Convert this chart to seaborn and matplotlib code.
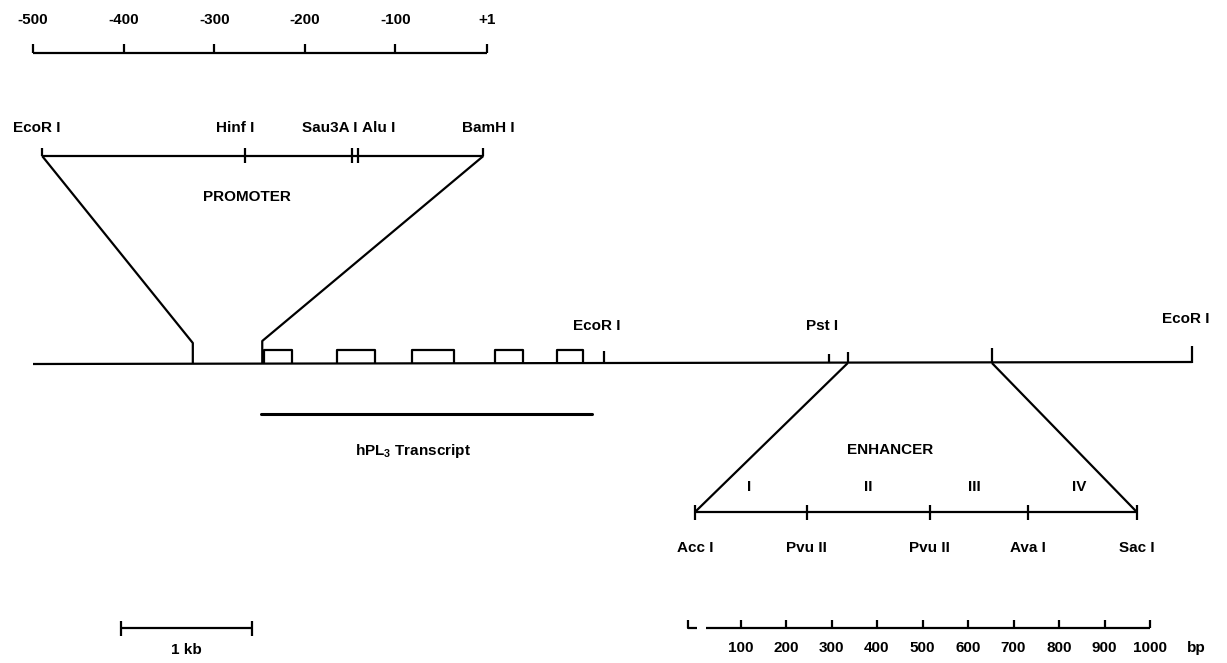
import matplotlib
matplotlib.use("Agg")
import matplotlib.pyplot as plt
import seaborn as sns
import pandas as pd

sns.set_theme(style="white")
plt.rcParams['font.family'] = ['Liberation Sans Narrow', 'Liberation Sans', 'DejaVu Sans']

# promoter fragment, positions in bp relative to the cap site (+1)
promoter_ticks = [-500, -400, -300, -200, -100, 1]
promoter_tick_labels = ["-500", "-400", "-300", "-200", "-100", "+1"]
promoter_sites = ["EcoR I", "Hinf I", "Sau3A I", "Alu I", "BamH I"]
promoter_site_bp = [-490, -266, -148, -141, -3]

# main genomic map, positions in kb from the left end
map_length_kb = 8.85
promoter_window_kb = [1.22, 1.75]
exon_starts_kb = [1.76, 2.32, 2.89, 3.53, 4.00]
exon_ends_kb = [1.98, 2.61, 3.21, 3.74, 4.20]
transcript_kb = [1.74, 4.27]
map_sites = ["EcoR I", "Pst I", "", "", "EcoR I"]
map_site_kb = [4.36, 6.08, 6.22, 7.32, 8.85]
enhancer_window_kb = [6.22, 7.32]

# enhancer fragment, positions in bp
enhancer_sites = ["Acc I", "Pvu II", "Pvu II", "Ava I", "Sac I"]
enhancer_site_bp = [0, 246, 516, 732, 971]
enhancer_regions = ["I", "II", "III", "IV"]
enhancer_region_bp = [120, 380, 615, 845]
bp_ticks = [100, 200, 300, 400, 500, 600, 700, 800, 900, 1000]


# pixel layout of the drawing
def promo_x(bp):
    return 487 + (bp - 1) * 0.906


def map_x(kb):
    return 33 + kb * 131


def enh_x(bp):
    return 695 + bp * 0.455


Y_TOP = 53
Y_PROMO = 156
Y_MAP = 363
Y_TRANS = 414
Y_ENH = 512
Y_SCALE = 628

fig = plt.figure(figsize=(12.27, 6.63), dpi=100)
ax = fig.add_axes([0, 0, 1, 1])
ax.set_xlim(0, 1227)
ax.set_ylim(663, 0)
ax.axis("off")

line = dict(color="black", lw=1.6, solid_capstyle="butt")
txt = dict(fontsize=11, fontweight="bold", color="black")

# top bp scale
ax.plot([promo_x(-500), promo_x(1)], [Y_TOP, Y_TOP], **line)
for bp, lab in zip(promoter_ticks, promoter_tick_labels):
    ax.plot([promo_x(bp), promo_x(bp)], [Y_TOP, Y_TOP - 9], **line)
    ax.text(promo_x(bp), 20, lab, ha="center", va="center", **txt)

# promoter fragment
ax.plot([promo_x(promoter_site_bp[0]), promo_x(promoter_site_bp[-1])], [Y_PROMO, Y_PROMO], **line)
for i, bp in enumerate(promoter_site_bp):
    lo = Y_PROMO if i in (0, len(promoter_site_bp) - 1) else Y_PROMO + 7
    ax.plot([promo_x(bp), promo_x(bp)], [Y_PROMO - 8, lo], **line)
label_x = [promo_x(promoter_site_bp[0]) - 5, promo_x(promoter_site_bp[1]) - 10,
           promo_x(promoter_site_bp[2]) - 22, promo_x(promoter_site_bp[3]) + 20,
           promo_x(promoter_site_bp[4]) + 5]
for lab, x in zip(promoter_sites, label_x):
    ax.text(x, 128, lab, ha="center", va="center", **txt)
ax.text(247, 197, "PROMOTER", ha="center", va="center", **txt)

# zoom lines promoter -> map
ax.plot([promo_x(promoter_site_bp[0]), map_x(promoter_window_kb[0]), map_x(promoter_window_kb[0])],
        [Y_PROMO, Y_MAP - 20, Y_MAP], **line)
ax.plot([promo_x(promoter_site_bp[-1]), map_x(promoter_window_kb[1]), map_x(promoter_window_kb[1])],
        [Y_PROMO, Y_MAP - 22, Y_MAP], **line)

# main map
ax.plot([map_x(0), map_x(map_length_kb)], [Y_MAP + 1, Y_MAP - 1], **line)
for s, e in zip(exon_starts_kb, exon_ends_kb):
    ax.plot([map_x(s), map_x(s), map_x(e), map_x(e)], [Y_MAP, Y_MAP - 13, Y_MAP - 13, Y_MAP], **line)
tick_h = [12, 9, 11, 15, 17]
for lab, kb, h in zip(map_sites, map_site_kb, tick_h):
    ax.plot([map_x(kb), map_x(kb)], [Y_MAP, Y_MAP - h], **line)
    if lab:
        ax.text(map_x(kb) - 7, Y_MAP - 37 - (7 if kb > 8 else 0), lab, ha="center", va="center", **txt)

# transcript
ax.plot([map_x(transcript_kb[0]), map_x(transcript_kb[1])], [Y_TRANS, Y_TRANS], lw=2.2, color="black")
ax.text(413, 451, r"hPL$_\mathregular{3}$ Transcript", ha="center", va="center", **txt)

# zoom lines map -> enhancer
ax.plot([map_x(enhancer_window_kb[0]), enh_x(enhancer_site_bp[0])], [Y_MAP, Y_ENH], **line)
ax.plot([map_x(enhancer_window_kb[1]), enh_x(enhancer_site_bp[-1])], [Y_MAP, Y_ENH], **line)

# enhancer fragment
ax.plot([enh_x(enhancer_site_bp[0]), enh_x(enhancer_site_bp[-1])], [Y_ENH, Y_ENH], **line)
for lab, bp in zip(enhancer_sites, enhancer_site_bp):
    ax.plot([enh_x(bp), enh_x(bp)], [Y_ENH - 7, Y_ENH + 8], **line)
    ax.text(enh_x(bp), 548, lab, ha="center", va="center", **txt)
for lab, bp in zip(enhancer_regions, enhancer_region_bp):
    ax.text(enh_x(bp), 487, lab, ha="center", va="center", **txt)
ax.text(890, 450, "ENHANCER", ha="center", va="center", **txt)

# 1 kb scale bar
ax.plot([map_x(0.67), map_x(1.67)], [Y_SCALE, Y_SCALE], **line)
for kb in (0.67, 1.67):
    ax.plot([map_x(kb), map_x(kb)], [Y_SCALE - 7, Y_SCALE + 8], **line)
ax.text(map_x(1.17), 650, "1 kb", ha="center", va="center", **txt)

# bp scale
ax.plot([enh_x(-15), enh_x(-15), enh_x(5)], [Y_SCALE - 8, Y_SCALE, Y_SCALE], **line)
ax.plot([enh_x(25), enh_x(1000)], [Y_SCALE, Y_SCALE], **line)
for bp in bp_ticks:
    ax.plot([enh_x(bp), enh_x(bp)], [Y_SCALE, Y_SCALE - 8], **line)
    ax.text(enh_x(bp), 648, str(bp), ha="center", va="center", **txt)
ax.text(1196, 648, "bp", ha="center", va="center", **txt)

fig.savefig("out.png", dpi=100, facecolor="white")
